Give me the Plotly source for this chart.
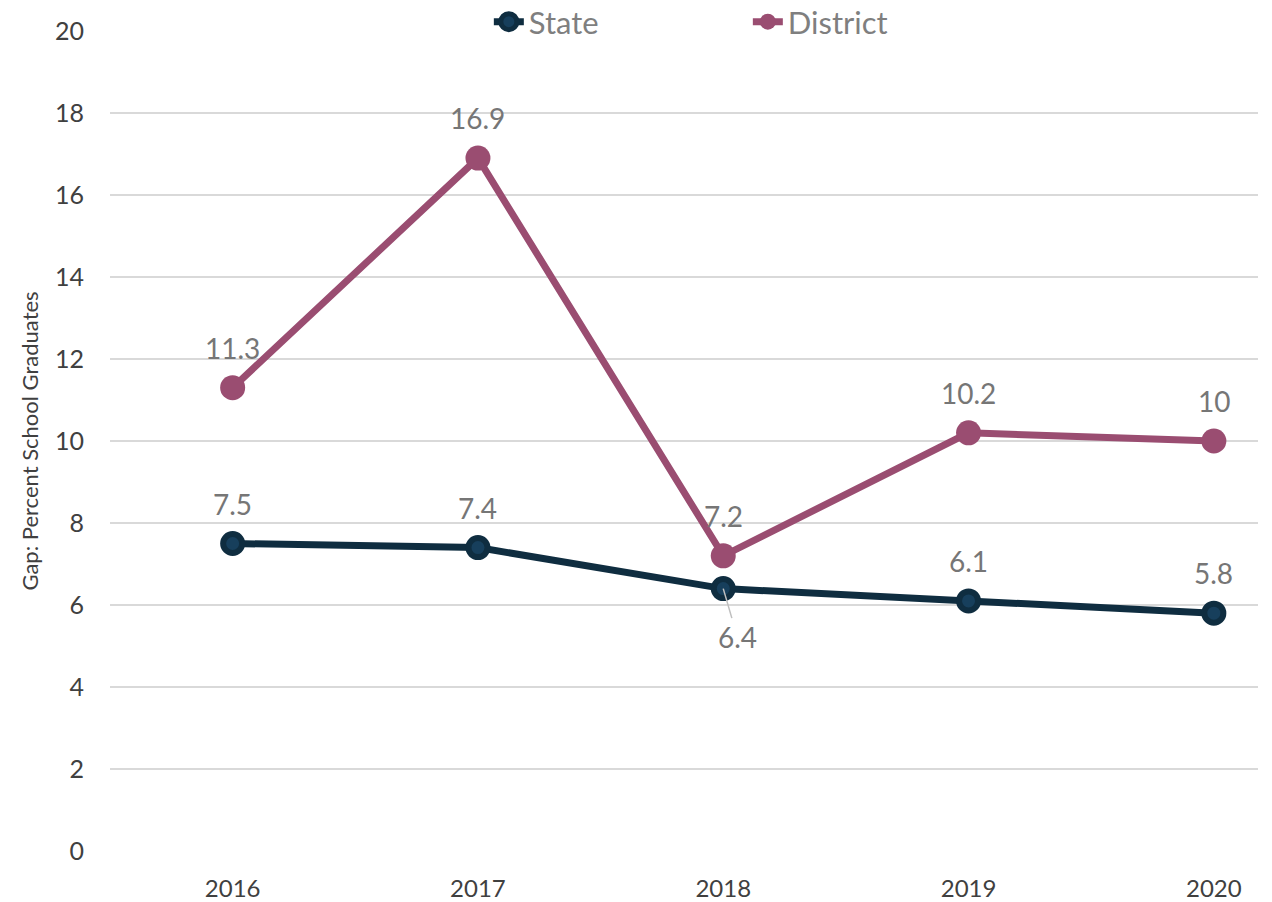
import plotly.graph_objects as go

years = ["2016", "2017", "2018", "2019", "2020"]
state = [7.5, 7.4, 6.4, 6.1, 5.8]
district = [11.3, 16.9, 7.2, 10.2, 10.0]
state_label_pos = ["above", "above", "below", "above", "above"]
district_label_pos = ["above", "above", "above", "above", "above"]

STATE_C = "#0f2d40"
DIST_C = "#9a4d71"
LABEL_C = "#767676"
FONT = "Lato"

fig = go.Figure()
fig.add_trace(go.Scatter(
    x=years, y=state, name="State", mode="lines+markers",
    line=dict(color=STATE_C, width=7),
    marker=dict(size=19, color="#173f5c", line=dict(color=STATE_C, width=6)),
))
fig.add_trace(go.Scatter(
    x=years, y=district, name="District", mode="lines+markers",
    line=dict(color=DIST_C, width=7),
    marker=dict(size=25, color=DIST_C),
))

def fmt(v):
    return f"{v:g}"

for series, positions in ((state, state_label_pos), (district, district_label_pos)):
    for i, (v, p) in enumerate(zip(series, positions)):
        if p == "above":
            fig.add_annotation(x=i, y=v, xref="x", yref="y", text=fmt(v), showarrow=False,
                               yshift=40, font=dict(family=FONT, size=28, color=LABEL_C))
        else:
            fig.add_annotation(x=i, y=v, xref="x", yref="y", text=fmt(v), showarrow=True,
                               arrowhead=0, arrowwidth=1.5, arrowcolor="#bfbfbf",
                               ax=14, ay=48, standoff=0,
                               font=dict(family=FONT, size=28, color=LABEL_C))

fig.update_layout(
    width=1272, height=902,
    margin=dict(l=102, r=22, t=23, b=59, autoexpand=False),
    paper_bgcolor="white", plot_bgcolor="white",
    font=dict(family=FONT, color="#404040"),
    showlegend=True,
    legend=dict(orientation="h", x=0.33, xanchor="left", y=1.011, yanchor="middle",
                font=dict(family=FONT, size=31, color="#7f7f7f"),
                entrywidth=214, bgcolor="rgba(0,0,0,0)", itemsizing="trace"),
    xaxis=dict(type="category", range=[-0.5, 4.18], showgrid=False, zeroline=False,
               showline=False, ticks="outside", ticklen=16, tickcolor="rgba(0,0,0,0)",
               tickfont=dict(family=FONT, size=24, color="#404040")),
    yaxis=dict(range=[0, 20], dtick=2, showgrid=True, gridcolor="#d9d9d9", gridwidth=2,
               zeroline=False, showline=False, ticks="outside", ticklen=20,
               tickcolor="rgba(0,0,0,0)",
               tickfont=dict(family=FONT, size=25, color="#404040"),
               title=dict(text="Gap: Percent School Graduates", standoff=10,
                          font=dict(family=FONT, size=22, color="#404040"))),
)

fig.write_html("out.html")
